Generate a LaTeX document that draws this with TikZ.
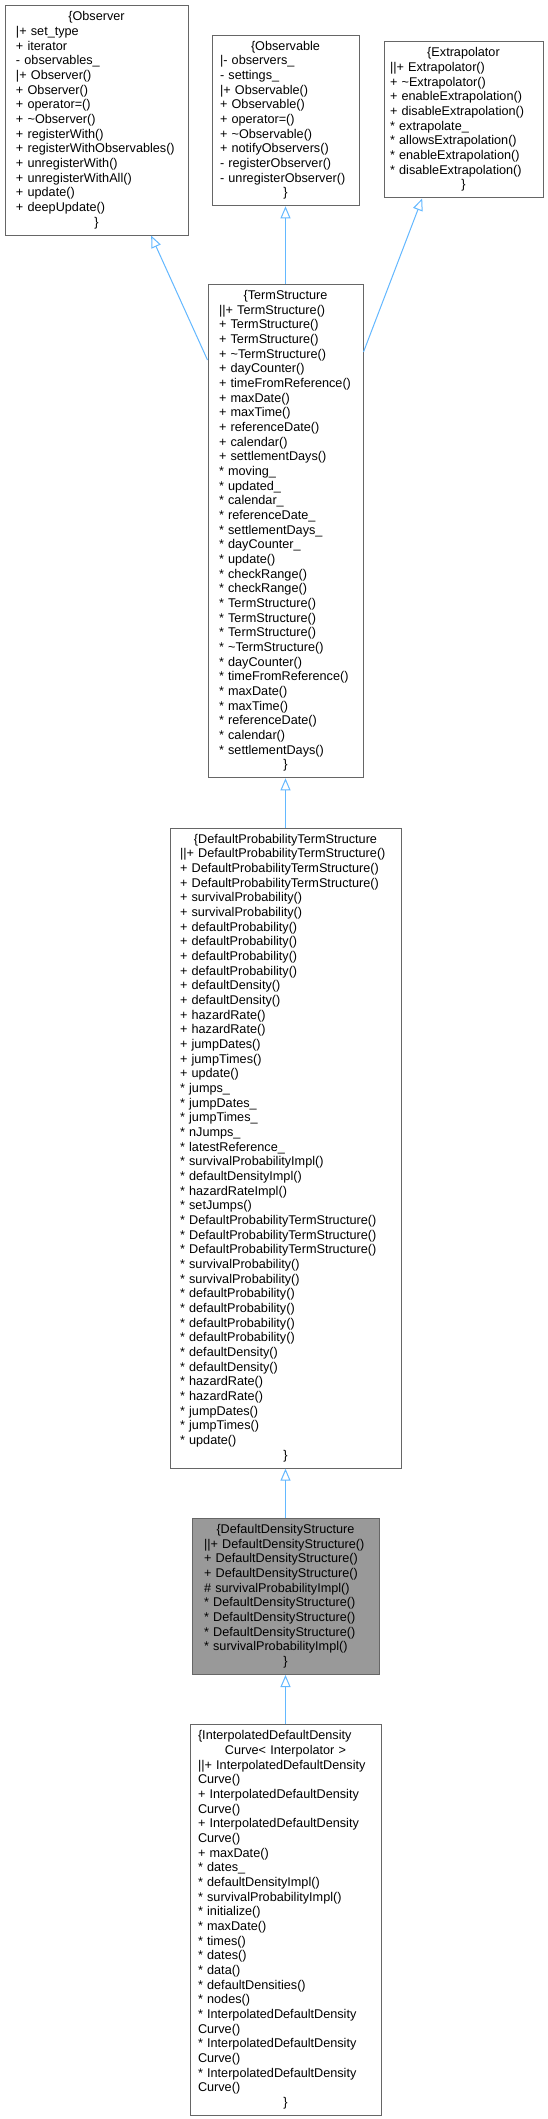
\documentclass[tikz,border=0pt]{standalone}
\usepackage{fontspec}
\setmainfont{Liberation Sans}
\usetikzlibrary{arrows.meta, positioning}
\definecolor{cBox}{HTML}{666666}
\definecolor{cCur}{HTML}{999999}
\definecolor{cInh}{HTML}{63B8FF}
\newcommand{\hdr}[1]{\makebox[\hsize][c]{#1}}

\begin{document}
\begin{tikzpicture}[x=0.75pt, y=-0.75pt,
    cls/.style={draw=cBox, fill=white, line width=0.75pt, align=left,
                font=\fontsize{9.5pt}{11pt}\selectfont, inner ysep=3.5pt,
                execute at begin node=\strut, execute at end node=\strut},
    cur/.style={cls, fill=cCur},
    inh/.style={draw=cInh, line width=0.75pt,
                -{Triangle[open, length=9pt, width=7.5pt]}},
]
\path[use as bounding box, fill=white] (0,0) rectangle (548,2119);

% === TOP ROW: base classes ===
\node[cls, text width=120.75pt, inner xsep=8.25pt] (obsr) at (96.5,120.5) {%
\hdr{\{Observer}\\
|+ set\_type\\
+ iterator\\
- observables\_\\
|+ Observer()\\
+ Observer()\\
+ operator=()\\
+ \textasciitilde Observer()\\
+ registerWith()\\
+ registerWithObservables()\\
+ unregisterWith()\\
+ unregisterWithAll()\\
+ update()\\
+ deepUpdate()\\
\hdr{\}}};

\node[cls, text width=98.25pt, inner xsep=6pt] (obsv) at (285.5,120.5) {%
\hdr{\{Observable}\\
|- observers\_\\
- settings\_\\
|+ Observable()\\
+ Observable()\\
+ operator=()\\
+ \textasciitilde Observable()\\
+ notifyObservers()\\
- registerObserver()\\
- unregisterObserver()\\
\hdr{\}}};

\node[cls, text width=110.25pt, inner xsep=4.5pt] (extr) at (463.5,120) {%
\hdr{\{Extrapolator}\\
||+ Extrapolator()\\
+ \textasciitilde Extrapolator()\\
+ enableExtrapolation()\\
+ disableExtrapolation()\\
{}* extrapolate\_\\
{}* allowsExtrapolation()\\
{}* enableExtrapolation()\\
{}* disableExtrapolation()\\
\hdr{\}}};

% === TermStructure ===
\node[cls, text width=99.75pt, inner xsep=8.25pt, anchor=north] (ts) at (285.5,284) {%
\hdr{\{TermStructure}\\
||+ TermStructure()\\
+ TermStructure()\\
+ TermStructure()\\
+ \textasciitilde TermStructure()\\
+ dayCounter()\\
+ timeFromReference()\\
+ maxDate()\\
+ maxTime()\\
+ referenceDate()\\
+ calendar()\\
+ settlementDays()\\
{}* moving\_\\
{}* updated\_\\
{}* calendar\_\\
{}* referenceDate\_\\
{}* settlementDays\_\\
{}* dayCounter\_\\
{}* update()\\
{}* checkRange()\\
{}* checkRange()\\
{}* TermStructure()\\
{}* TermStructure()\\
{}* TermStructure()\\
{}* \textasciitilde TermStructure()\\
{}* dayCounter()\\
{}* timeFromReference()\\
{}* maxDate()\\
{}* maxTime()\\
{}* referenceDate()\\
{}* calendar()\\
{}* settlementDays()\\
\hdr{\}}};

% === DefaultProbabilityTermStructure ===
\node[cls, text width=158.25pt, inner xsep=7.5pt, below=37pt of ts] (dpts) {%
\hdr{\{DefaultProbabilityTermStructure}\\
||+ DefaultProbabilityTermStructure()\\
+ DefaultProbabilityTermStructure()\\
+ DefaultProbabilityTermStructure()\\
+ survivalProbability()\\
+ survivalProbability()\\
+ defaultProbability()\\
+ defaultProbability()\\
+ defaultProbability()\\
+ defaultProbability()\\
+ defaultDensity()\\
+ defaultDensity()\\
+ hazardRate()\\
+ hazardRate()\\
+ jumpDates()\\
+ jumpTimes()\\
+ update()\\
{}* jumps\_\\
{}* jumpDates\_\\
{}* jumpTimes\_\\
{}* nJumps\_\\
{}* latestReference\_\\
{}* survivalProbabilityImpl()\\
{}* defaultDensityImpl()\\
{}* hazardRateImpl()\\
{}* setJumps()\\
{}* DefaultProbabilityTermStructure()\\
{}* DefaultProbabilityTermStructure()\\
{}* DefaultProbabilityTermStructure()\\
{}* survivalProbability()\\
{}* survivalProbability()\\
{}* defaultProbability()\\
{}* defaultProbability()\\
{}* defaultProbability()\\
{}* defaultProbability()\\
{}* defaultDensity()\\
{}* defaultDensity()\\
{}* hazardRate()\\
{}* hazardRate()\\
{}* jumpDates()\\
{}* jumpTimes()\\
{}* update()\\
\hdr{\}}};

% === DefaultDensityStructure (current class) ===
\node[cur, text width=122.25pt, inner xsep=9pt, below=37pt of dpts] (dds) {%
\hdr{\{DefaultDensityStructure}\\
||+ DefaultDensityStructure()\\
+ DefaultDensityStructure()\\
+ DefaultDensityStructure()\\
\# survivalProbabilityImpl()\\
{}* DefaultDensityStructure()\\
{}* DefaultDensityStructure()\\
{}* DefaultDensityStructure()\\
{}* survivalProbabilityImpl()\\
\hdr{\}}};

% === InterpolatedDefaultDensityCurve ===
\node[cls, text width=131.25pt, inner xsep=6pt, below=37pt of dds] (iddc) {%
\{InterpolatedDefaultDensity\\
\hdr{Curve< Interpolator >}\\
||+ InterpolatedDefaultDensity\\
Curve()\\
+ InterpolatedDefaultDensity\\
Curve()\\
+ InterpolatedDefaultDensity\\
Curve()\\
+ maxDate()\\
{}* dates\_\\
{}* defaultDensityImpl()\\
{}* survivalProbabilityImpl()\\
{}* initialize()\\
{}* maxDate()\\
{}* times()\\
{}* dates()\\
{}* data()\\
{}* defaultDensities()\\
{}* nodes()\\
{}* InterpolatedDefaultDensity\\
Curve()\\
{}* InterpolatedDefaultDensity\\
Curve()\\
{}* InterpolatedDefaultDensity\\
Curve()\\
\hdr{\}}};

% inheritance arrows
\draw[inh] ([yshift=-57pt]ts.north west) -- ([xshift=41pt]obsr.south);
\draw[inh] (ts.north) -- (obsv.south);
\draw[inh] ([yshift=-51pt]ts.north east) -- ([xshift=-31pt]extr.south);
\draw[inh] (dpts) -- (ts);
\draw[inh] (dds) -- (dpts);
\draw[inh] (iddc) -- (dds);

\end{tikzpicture}
\end{document}
